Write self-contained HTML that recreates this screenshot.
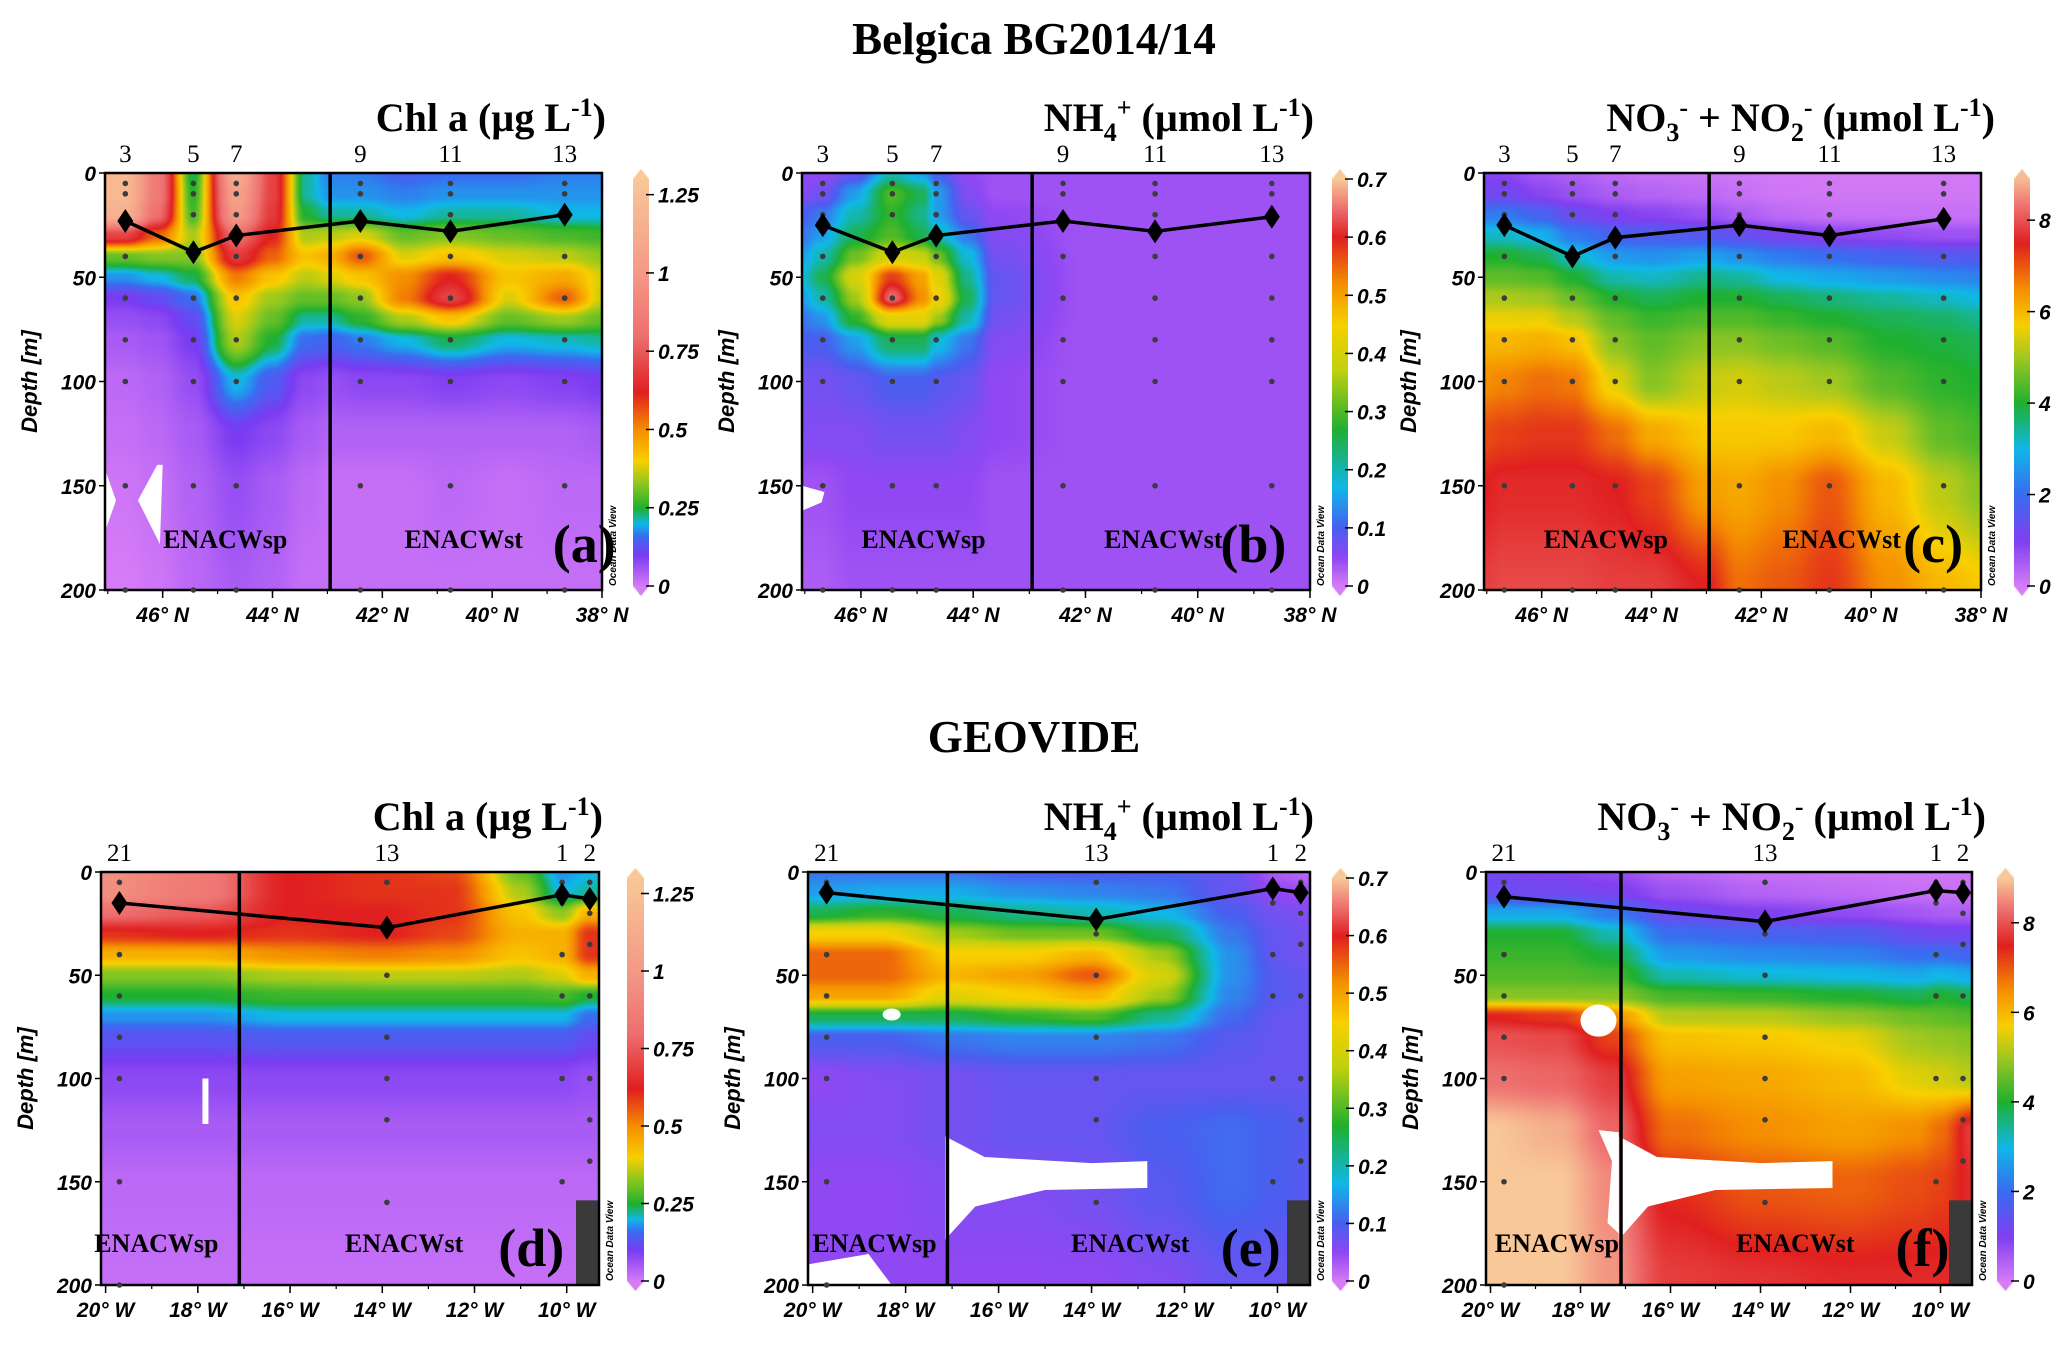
<!DOCTYPE html>
<html><head><meta charset="utf-8">
<style>
html,body{margin:0;padding:0;background:#fff;}
#root{position:relative;width:2067px;height:1350px;overflow:hidden;background:#fff;}
canvas{position:absolute;}
svg{position:absolute;left:0;top:0;}
</style></head>
<body>
<div id="root">
<svg id="svg" width="2067" height="1350"></svg>
</div>
<script>
// ---------------- DATA ----------------
const D = [0,10,20,30,40,50,60,70,80,100,125,150,200];

const aX = [47.05,46.7,46.1,45.45,44.65,44.0,43.4,42.95,42.4,41.6,40.76,39.7,38.68,38.0];
const aV = [
[1.2,1.2,1.15,0.7,0.3,0.18,0.1,0.07,0.05,0.03,0.02,0.01,0],
[1.2,1.2,1.15,0.7,0.3,0.18,0.1,0.07,0.05,0.03,0.02,0.01,0],
[0.85,0.85,0.8,0.55,0.32,0.2,0.12,0.08,0.06,0.04,0.03,0.02,0.01],
[0.24,0.26,0.28,0.35,0.32,0.24,0.16,0.12,0.1,0.07,0.05,0.04,0.03],
[1.1,1.05,1.0,0.8,0.68,0.52,0.42,0.38,0.35,0.2,0.1,0.07,0.05],
[0.7,0.7,0.68,0.62,0.55,0.42,0.34,0.3,0.25,0.14,0.08,0.05,0.04],
[0.22,0.22,0.25,0.35,0.42,0.36,0.3,0.22,0.16,0.08,0.05,0.03,0.02],
[0.17,0.18,0.22,0.36,0.45,0.38,0.3,0.22,0.15,0.07,0.04,0.02,0.02],
[0.17,0.18,0.22,0.38,0.56,0.42,0.33,0.26,0.17,0.08,0.04,0.02,0.02],
[0.15,0.17,0.2,0.3,0.38,0.5,0.52,0.35,0.2,0.08,0.04,0.02,0.02],
[0.16,0.18,0.22,0.32,0.42,0.62,0.7,0.42,0.24,0.09,0.04,0.03,0.02],
[0.16,0.18,0.22,0.3,0.38,0.42,0.38,0.3,0.2,0.08,0.04,0.02,0.02],
[0.17,0.18,0.2,0.28,0.36,0.46,0.55,0.34,0.21,0.09,0.04,0.03,0.02],
[0.17,0.18,0.2,0.27,0.33,0.38,0.37,0.3,0.22,0.1,0.05,0.03,0.02]];

const bX = [47.05,46.7,46.1,45.45,44.9,44.65,44.1,43.6,42.0,38.0];
const bV = [
[0.05,0.06,0.1,0.12,0.15,0.18,0.15,0.12,0.1,0.07,0.06,0.04,0.03],
[0.05,0.07,0.12,0.15,0.2,0.25,0.2,0.14,0.1,0.07,0.06,0.04,0.03],
[0.08,0.15,0.2,0.25,0.32,0.4,0.35,0.28,0.15,0.08,0.06,0.05,0.04],
[0.2,0.3,0.28,0.3,0.4,0.58,0.65,0.42,0.25,0.1,0.07,0.05,0.04],
[0.15,0.25,0.22,0.25,0.38,0.5,0.52,0.42,0.25,0.1,0.07,0.05,0.04],
[0.1,0.15,0.15,0.2,0.32,0.42,0.45,0.35,0.18,0.09,0.07,0.05,0.04],
[0.05,0.06,0.08,0.12,0.18,0.22,0.25,0.2,0.12,0.08,0.06,0.05,0.04],
[0.04,0.04,0.05,0.06,0.07,0.08,0.08,0.07,0.06,0.05,0.05,0.04,0.04],
[0.04,0.04,0.04,0.04,0.04,0.04,0.04,0.04,0.04,0.04,0.04,0.04,0.04],
[0.04,0.04,0.04,0.04,0.04,0.04,0.04,0.04,0.04,0.04,0.04,0.04,0.04]];

const cX = [47.05,46.7,46.0,45.45,44.65,44.0,43.0,42.4,41.6,40.76,39.7,38.68,38.0];
const cV = [
[0.9,1.2,2.2,3.2,4.0,4.5,5.1,5.6,6.0,6.5,7.1,7.5,7.8],
[0.9,1.2,2.2,3.2,4.0,4.5,5.1,5.6,6.0,6.6,7.2,7.6,7.9],
[0.6,0.9,1.8,2.9,3.8,4.4,5.0,5.6,6.1,6.8,7.3,7.6,7.9],
[0.5,0.7,1.3,2.2,3.2,4,4.6,5.2,5.9,6.7,7.3,7.6,7.9],
[0.3,0.5,1.0,1.8,2.6,3.3,4,4.5,4.8,5.5,6.8,7.5,7.8],
[0.2,0.4,0.9,1.7,2.5,3.2,3.8,4.2,4.5,4.8,6.2,7.2,7.8],
[0.15,0.3,0.7,1.6,2.7,3.5,4,4.4,4.8,5.3,5.8,6.3,7.5],
[0.1,0.2,0.5,1.4,2.5,3.4,4,4.4,4.8,5.4,5.8,6.2,6.8],
[0.05,0.1,0.3,1.1,2.2,3,3.8,4.2,4.6,5.2,5.8,6.5,7],
[0.05,0.08,0.2,0.9,2,2.8,3.6,4,4.4,5,6,7,7.3],
[0.05,0.08,0.2,0.8,1.8,2.6,3.4,3.8,4,4.4,5.3,6,6.5],
[0.05,0.08,0.2,0.7,1.6,2.4,3.2,3.7,3.9,4.1,4.5,5.2,6],
[0.05,0.08,0.2,0.7,1.6,2.3,3,3.5,3.8,4,4.3,4.8,5.8]];

const dX = [-20.1,-18,-16,-14,-12.5,-11,-10.1,-9.5,-9.3];
const dV = [
[0.95,0.95,0.8,0.6,0.45,0.32,0.25,0.18,0.13,0.08,0.05,0.03,0.02],
[0.85,0.85,0.75,0.62,0.45,0.32,0.25,0.18,0.13,0.08,0.05,0.03,0.02],
[0.62,0.62,0.62,0.6,0.5,0.35,0.27,0.2,0.14,0.08,0.05,0.03,0.02],
[0.6,0.6,0.62,0.62,0.52,0.36,0.27,0.2,0.14,0.08,0.05,0.03,0.02],
[0.58,0.6,0.6,0.58,0.5,0.36,0.27,0.2,0.14,0.08,0.05,0.03,0.02],
[0.3,0.35,0.42,0.45,0.42,0.35,0.27,0.2,0.14,0.08,0.05,0.03,0.02],
[0.18,0.2,0.33,0.45,0.45,0.38,0.28,0.2,0.14,0.08,0.05,0.03,0.02],
[0.2,0.22,0.45,0.6,0.6,0.45,0.25,0.16,0.12,0.07,0.05,0.03,0.02],
[0.2,0.22,0.45,0.6,0.6,0.45,0.25,0.16,0.12,0.07,0.05,0.03,0.02]];

const eX = [-20.1,-18.5,-17,-15.5,-14,-12.5,-11,-10,-9.3];
const eV = [
[0.12,0.15,0.25,0.45,0.55,0.55,0.5,0.25,0.1,0.05,0.06,0.05,0.05],
[0.12,0.16,0.28,0.45,0.55,0.55,0.5,0.25,0.1,0.06,0.06,0.05,0.05],
[0.12,0.16,0.25,0.35,0.45,0.48,0.42,0.25,0.12,0.07,0.07,0.06,0.05],
[0.1,0.14,0.22,0.32,0.45,0.5,0.45,0.28,0.13,0.08,0.08,0.06,0.05],
[0.1,0.13,0.2,0.32,0.48,0.56,0.48,0.3,0.13,0.08,0.08,0.07,0.05],
[0.1,0.12,0.17,0.25,0.35,0.4,0.35,0.22,0.12,0.08,0.1,0.09,0.06],
[0.08,0.08,0.1,0.12,0.14,0.14,0.13,0.11,0.09,0.08,0.11,0.11,0.08],
[0.03,0.05,0.07,0.08,0.08,0.09,0.09,0.08,0.08,0.08,0.1,0.1,0.08],
[0.02,0.04,0.06,0.07,0.07,0.08,0.08,0.08,0.08,0.08,0.09,0.09,0.08]];

const fX = [-20.1,-18.5,-17.3,-16,-14,-12,-10.5,-10,-9.3];
const fV = [
[1.2,1.3,2.8,4,4.2,4.4,4.8,7.5,8,8.3,9,9,9],
[1.0,1.2,2.8,4,4.2,4.4,4.8,7.3,7.9,8.2,8.8,9,9],
[0.8,1.1,2.2,3.3,3.9,4.3,4.8,6.5,7.2,7.8,8.2,8.5,8.6],
[0.4,0.7,1.3,2,2.6,3.3,4.3,5.2,5.9,6.3,6.8,7.4,7.8],
[0.2,0.4,1,1.8,2.4,3.1,4.2,5.2,5.8,6.2,6.5,7,7.7],
[0.15,0.3,0.8,1.7,2.3,3,4,4.9,5.6,6,6.3,6.9,7.6],
[0.1,0.2,0.6,1.3,2,2.8,3.8,4.6,5,5.5,6.5,7.1,7.6],
[0.1,0.2,0.5,1.2,2,3,4,4.5,4.9,5.4,6.8,7.2,7.6],
[0.1,0.2,0.5,1.2,1.8,2.8,3.8,4.4,4.8,5.2,7.8,7.6,7.6]];

const beStLat = [46.68,45.44,44.66,42.4,40.76,38.68];
const beStNames = ['3','5','7','9','11','13'];
const beSampleDepths = [5,10,20,40,60,80,100,150,200];
const aMLD = [23,38,30,23,28,20];
const bMLD = [25,38,30,23,28,21];
const cMLD = [25,40,31,25,30,22];

const geStLon = [-19.7,-13.9,-10.1,-9.5];
const geStNames = ['21','13','1','2'];
const geSampleDepths = [[5,40,60,80,100,150,200],[5,30,50,80,100,120,160],[5,15,40,60,100,150],[5,20,35,60,100,120,140]];
const dMLD = [15,27,11,13];
const eMLD = [10,23,8,10];
const fMLD = [12,24,9,10];

const latTicks = [46,44,42,40,38];
const lonTicks = [-20,-18,-16,-14,-12,-10];
const depthTicks = [0,50,100,150,200];
const chlTicks = [0,0.25,0.5,0.75,1,1.25];
const nhTicks = [0,0.1,0.2,0.3,0.4,0.5,0.6,0.7];
const noTicks = [0,2,4,6,8];

const chlStops = [[0,'#d77cf7'],[0.1,'#7a3cf2'],[0.16,'#3a6cf0'],[0.2,'#10b8e8'],[0.25,'#20b030'],[0.33,'#90c820'],[0.4,'#f8d000'],[0.5,'#f59000'],[0.62,'#e02020'],[0.8,'#ee7070'],[1.0,'#f49a86'],[1.3,'#f8c898']];
const nhStops = [[0,'#d77cf7'],[0.05,'#9048f2'],[0.1,'#4a5ef0'],[0.17,'#10b8e8'],[0.27,'#20b030'],[0.37,'#c0d010'],[0.45,'#f8d000'],[0.52,'#f59000'],[0.6,'#e02020'],[0.65,'#ee7070'],[0.7,'#f8c898']];
const noStops = [[0,'#d77cf7'],[1,'#8040f0'],[2,'#3a6cf0'],[3,'#10b8e8'],[4,'#20b030'],[5,'#a0c820'],[5.7,'#f8d000'],[6.5,'#f59000'],[7.5,'#e02020'],[8.3,'#ee7070'],[9,'#f8c898']];

// ---------------- LAYOUT ----------------
const PANELS = [
 {id:'a',x0:105,x1:602,y0:173,y1:590,xmin:47.05,xmax:38,xs:aX,vs:aV,stops:chlStops,cb:[633,649],cmax:1.3,ticks:chlTicks,title:'chl',mld:aMLD,row:1,lab:[170,350,450]},
 {id:'b',x0:802,x1:1310,y0:173,y1:590,xmin:47.05,xmax:38,xs:bX,vs:bV,stops:nhStops,cb:[1332,1348],cmax:0.7,ticks:nhTicks,title:'nh',mld:bMLD,row:1,lab:[697,878,955]},
 {id:'c',x0:1484,x1:1981,y0:173,y1:590,xmin:47.05,xmax:38,xs:cX,vs:cV,stops:noStops,cb:[2014,2030],cmax:8.9,ticks:noTicks,title:'no',mld:cMLD,row:1,lab:[1212,1390,1468]},
 {id:'d',x0:101,x1:599,y0:872,y1:1285,xmin:-20.1,xmax:-9.3,xs:dX,vs:dV,stops:chlStops,cb:[627,644],cmax:1.3,ticks:chlTicks,title:'chl',mld:dMLD,row:2,lab:[118,305,410]},
 {id:'e',x0:808,x1:1310,y0:872,y1:1285,xmin:-20.1,xmax:-9.3,xs:eX,vs:eV,stops:nhStops,cb:[1332,1349],cmax:0.7,ticks:nhTicks,title:'nh',mld:eMLD,row:2,lab:[660,853,953]},
 {id:'f',x0:1486,x1:1972,y0:872,y1:1285,xmin:-20.1,xmax:-9.3,xs:fX,vs:fV,stops:noStops,cb:[1997,2014],cmax:9,ticks:noTicks,title:'no',mld:fMLD,row:2,lab:[1175,1355,1460]}
];

const NS='http://www.w3.org/2000/svg';
const svg=document.getElementById('svg');
const root=document.getElementById('root');
function el(tag,attrs,parent){const e=document.createElementNS(NS,tag);for(const k in attrs)e.setAttribute(k,attrs[k]);(parent||svg).appendChild(e);return e;}
function hex(c){return [parseInt(c.substr(1,2),16),parseInt(c.substr(3,2),16),parseInt(c.substr(5,2),16)];}
function cmap(stops,v){
 if(v<=stops[0][0])return hex(stops[0][1]);
 for(let i=0;i<stops.length-1;i++){
  if(v<=stops[i+1][0]){const t=(v-stops[i][0])/(stops[i+1][0]-stops[i][0]);const a=hex(stops[i][1]),b=hex(stops[i+1][1]);return [a[0]+(b[0]-a[0])*t,a[1]+(b[1]-a[1])*t,a[2]+(b[2]-a[2])*t];}
 }
 return hex(stops[stops.length-1][1]);
}
function seg(arr,v){
 const asc=arr[arr.length-1]>arr[0];
 for(let i=0;i<arr.length-1;i++){
  const lo=arr[i],hi=arr[i+1];
  if(asc?(v>=lo&&v<=hi):(v<=lo&&v>=hi)){return [i,(v-lo)/(hi-lo)];}
 }
 if(asc?v<arr[0]:v>arr[0])return [0,0];
 return [arr.length-2,1];
}
function sm(t){return t*t*(3-2*t);}
function field(xs,vs,x,d){
 const [i,tx0]=seg(xs,x);const [j,ty0]=seg(D,d);const tx=sm(tx0),ty=sm(ty0);
 const v00=vs[i][j],v01=vs[i][j+1],v10=vs[i+1][j],v11=vs[i+1][j+1];
 return (v00*(1-tx)+v10*tx)*(1-ty)+(v01*(1-tx)+v11*tx)*ty;
}

const TXT='font-family:"Liberation Sans",sans-serif;font-style:italic;font-weight:bold;';
const SER='font-family:"Liberation Serif",serif;';

// main titles
let t=el('text',{x:1034,y:54,'text-anchor':'middle',style:SER+'font-weight:bold;font-size:45px'});t.textContent='Belgica BG2014/14';


t=el('text',{x:1034,y:752,'text-anchor':'middle',style:SER+'font-weight:bold;font-size:45px'});t.textContent='GEOVIDE';



function titleText(p){
 const ty=p.row===1?131:830;
 const g=el('text',{x:p.x1+(p.title==='no'?14:4),y:ty,'text-anchor':'end',style:SER+'font-weight:bold;font-size:40px'});
 
 
 const parts = p.title==='chl'? [['Chl a (µg L',0],['-1',-1],[')',0]]
  : p.title==='nh'? [['NH',0],['4',1],['+',-2],[' (µmol L',0],['-1',-1],[')',0]]
  : [['NO',0],['3',1],['-',-2],[' + NO',0],['2',1],['-',-2],[' (µmol L',0],['-1',-1],[')',0]];
 let prev=0;
 parts.forEach(([s,k])=>{
  const off = k===-1?-15:(k===1?10:(k===-2?-15:0));
  const ts=el('tspan',{dy:off-prev,style:k!==0?'font-size:26px':''},g);ts.textContent=s;prev=off;
 });
}

PANELS.forEach(p=>{
 const W=p.x1-p.x0,H=p.y1-p.y0;
 const xS=v=>p.x0+(v-p.xmin)/(p.xmax-p.xmin)*W;
 const yS=d=>p.y0+d/200*H;
 const cv=document.createElement('canvas');cv.width=W;cv.height=H;
 cv.style.left=p.x0+'px';cv.style.top=p.y0+'px';
 
 
 root.insertBefore(cv,svg);
 const ctx=cv.getContext('2d');const img=ctx.createImageData(W,H);
 for(let py=0;py<H;py++){const d=(py+0.5)/H*200;
  for(let px=0;px<W;px++){const x=p.xmin+(px+0.5)/W*(p.xmax-p.xmin);
   const c=cmap(p.stops,field(p.xs,p.vs,x,d));const k=(py*W+px)*4;
   img.data[k]=c[0];img.data[k+1]=c[1];img.data[k+2]=c[2];img.data[k+3]=255;}}
 ctx.putImageData(img,0,0);

 const P=(pts)=>pts.map(q=>xS(q[0])+','+yS(q[1])).join(' ');
 if(p.id==='a'){
  let m=el('polygon',{points:P([[47.05,142],[46.85,157],[47.05,172]]),fill:'#fff'});
  m=el('polygon',{points:P([[46.1,140],[46.45,157],[46.05,178],[46.0,140]]),fill:'#fff'});
 }
 if(p.id==='b'){
  let m=el('polygon',{points:P([[47.05,150],[46.65,153],[46.7,158],[47.05,162]]),fill:'#fff'});
 }
 if(p.id==='d'){
  let m=el('rect',{x:xS(-17.9),y:yS(100),width:6,height:yS(122)-yS(100),fill:'#fff'});
 }
 if(p.id==='e'||p.id==='f'){
  const r=p.id==='e'?-12.8:-12.4;
  let m=el('polygon',{points:P([[-17.15,128],[-16.3,138],[-14,141],[r,140],[r,153],[-15,154],[-16.5,162],[-17.15,178]]),fill:'#fff'});
  m=el('ellipse',{cx:xS(p.id==='e'?-18.3:-17.6),cy:yS(p.id==='e'?69:72),rx:p.id==='e'?9:18,ry:p.id==='e'?6:16,fill:'#fff'});
  if(p.id==='e'){m=el('polygon',{points:P([[-20.1,200],[-20.1,190],[-18.8,185],[-18.3,200]]),fill:'#fff'});}
  if(p.id==='f'){m=el('polygon',{points:P([[-17.6,125],[-17.15,126],[-17.15,175],[-17.4,170],[-17.3,140]]),fill:'#fff'});}
 }
 if(p.row===2){
  let m=el('rect',{x:p.x1-23,y:yS(159),width:23,height:yS(200)-yS(159),fill:'#3a3a3a'});
 }

 let fr=el('rect',{x:p.x0,y:p.y0,width:W,height:H,fill:'none',stroke:'#000','stroke-width':2.5});
 
 
 const divX=p.row===1?42.95:-17.1;
 let dv=el('line',{x1:xS(divX),x2:xS(divX),y1:p.y0,y2:p.y1,stroke:'#000','stroke-width':3.5});
 
 

 depthTicks.forEach(d=>{
  let tk=el('line',{x1:p.x0-6,x2:p.x0,y1:yS(d),y2:yS(d),stroke:'#000','stroke-width':1.5});
  
  
  let tl=el('text',{x:p.x0-9,y:yS(d)+8,'text-anchor':'end',style:TXT+'font-size:21px'});tl.textContent=d;
  
  
 });
 let yt=el('text',{x:0,y:0,'text-anchor':'middle',transform:`translate(${p.x0-68},${(p.y0+p.y1)/2}) rotate(-90)`,style:TXT+'font-size:22px'});yt.textContent='Depth [m]';
 
 

 const ticks=p.row===1?latTicks:lonTicks;
 const minor=[];for(let v=Math.ceil(Math.min(p.xmin,p.xmax));v<=Math.max(p.xmin,p.xmax);v++)minor.push(v);
 minor.forEach(v=>{let mk=el('line',{x1:xS(v),x2:xS(v),y1:p.y1,y2:p.y1+4,stroke:'#000','stroke-width':1.2});});
 ticks.forEach(v=>{
  let tk=el('line',{x1:xS(v),x2:xS(v),y1:p.y1,y2:p.y1+8,stroke:'#000','stroke-width':1.5});
  
  
  let tl=el('text',{x:xS(v),y:p.y1+32,'text-anchor':'middle',style:TXT+'font-size:21px'});
  tl.textContent=p.row===1?(v+'° N'):(Math.abs(v)+'° W');
  
  
 });

 const sx=p.row===1?beStLat:geStLon, sn=p.row===1?beStNames:geStNames;
 sx.forEach((v,i)=>{
  const depths=p.row===1?beSampleDepths:geSampleDepths[i];
  depths.forEach(d=>{let c=el('circle',{cx:xS(v),cy:yS(d),r:2.8,fill:'#3c3c3c'});});
  let st=el('text',{x:xS(v),y:p.y0-11,'text-anchor':'middle',style:SER+'font-size:25px'});st.textContent=sn[i];
  
  
 });
 const pts=sx.map((v,i)=>xS(v)+','+yS(p.mld[i])).join(' ');
 let ml=el('polyline',{points:pts,fill:'none',stroke:'#000','stroke-width':3.5});
 
 
 sx.forEach((v,i)=>{
  const cx=xS(v),cy=yS(p.mld[i]);
  let dm=el('polygon',{points:`${cx},${cy-12} ${cx+8},${cy} ${cx},${cy+12} ${cx-8},${cy}`,fill:'#000'});
  
  
 });

 const ly=p.row===1?548:1252;
 let l1=el('text',{x:p.lab[0]*1.325,y:ly,'text-anchor':'middle',style:SER+'font-weight:bold;font-size:26px'});l1.textContent='ENACWsp';
 
 
 let l2=el('text',{x:p.lab[1]*1.325,y:ly,'text-anchor':'middle',style:SER+'font-weight:bold;font-size:26px'});l2.textContent='ENACWst';
 
 
 let l3=el('text',{x:p.lab[2]*1.325-12,y:ly+14,'text-anchor':'middle',style:SER+'font-weight:bold;font-size:54px'});l3.textContent='('+p.id+')';
 
 
 let odv=el('text',{x:0,y:0,transform:`translate(${p.x1+14},${p.y1-4}) rotate(-90)`,style:TXT+'font-size:10px'});odv.textContent='Ocean Data View';
 
 

 titleText(p);

 const cbTop=p.y0+6,cbBot=p.y1-4,cx0=p.cb[0],cx1=p.cb[1],cw=cx1-cx0;
 const cbc=document.createElement('canvas');cbc.width=cw;cbc.height=cbBot-cbTop+20;
 cbc.style.left=cx0+'px';cbc.style.top=(cbTop-10)+'px';
 
 
 root.insertBefore(cbc,svg);
 const c2=cbc.getContext('2d');
 for(let yy=0;yy<cbc.height;yy++){
  const v=Math.max(0,Math.min(p.cmax,(cbBot-(cbTop-10+yy))/(cbBot-cbTop)*p.cmax));
  const c=cmap(p.stops,v);c2.fillStyle=`rgb(${c[0]|0},${c[1]|0},${c[2]|0})`;c2.fillRect(0,yy,cw,1);
 }
 c2.fillStyle='#fff';
 c2.beginPath();c2.moveTo(0,0);c2.lineTo(cw/2,0);c2.lineTo(0,10);c2.closePath();c2.fill();
 c2.beginPath();c2.moveTo(cw,0);c2.lineTo(cw/2,0);c2.lineTo(cw,10);c2.closePath();c2.fill();
 const hb=cbc.height;
 c2.beginPath();c2.moveTo(0,hb);c2.lineTo(cw/2,hb);c2.lineTo(0,hb-10);c2.closePath();c2.fill();
 c2.beginPath();c2.moveTo(cw,hb);c2.lineTo(cw/2,hb);c2.lineTo(cw,hb-10);c2.closePath();c2.fill();
 p.ticks.forEach(v=>{
  const y=cbBot-v/p.cmax*(cbBot-cbTop);
  let tk=el('line',{x1:cx1-3,x2:cx1+5,y1:y,y2:y,stroke:'#000','stroke-width':1.5});
  
  
  let tl=el('text',{x:cx1+9,y:y+8,style:TXT+'font-size:21px'});tl.textContent=String(v);
  
  
 });
});
</script>
</body></html>
